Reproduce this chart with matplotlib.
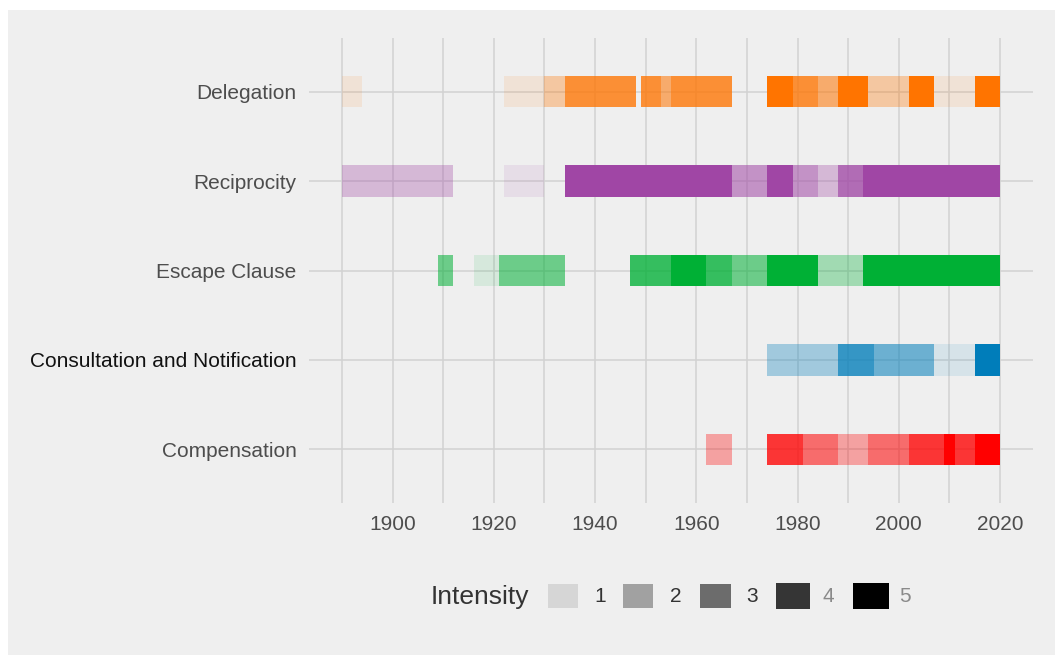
"""
Timeline of treaty provisions by year, shaded by intensity (1-5).
Each provision gets its own base colour; intensity maps to alpha.
"""

import matplotlib
matplotlib.use("Agg")
import matplotlib.pyplot as plt
import matplotlib.patches as patches

# ── data ──────────────────────────────────────────────────────────────────────
provisions = ["Compensation", "Consultation and Notification",
              "Escape Clause", "Reciprocity", "Delegation"]

# (start, end, intensity) per provision
compensation = [(1962, 1967, 2), (1974, 1981, 4), (1981, 1988, 3),
                (1988, 1994, 2), (1994, 2002, 3), (2002, 2009, 4),
                (2009, 2011, 5), (2011, 2015, 4), (2015, 2020, 5)]
consultation = [(1974, 1988, 2), (1988, 1995, 4), (1995, 2007, 3),
                (2007, 2015, 1), (2015, 2020, 5)]
escape_clause = [(1909, 1912, 3), (1916, 1921, 1), (1921, 1934, 3),
                 (1947, 1955, 4), (1955, 1962, 5), (1962, 1967, 4),
                 (1967, 1974, 3), (1974, 1984, 5), (1984, 1993, 2),
                 (1993, 2020, 5)]
reciprocity = [(1890, 1912, 2), (1922, 1930, 1), (1934, 1967, 5),
               (1967, 1974, 3), (1974, 1979, 5), (1979, 1984, 3),
               (1984, 1988, 2), (1988, 1993, 4), (1993, 2020, 5)]
delegation = [(1890, 1894, 1), (1922, 1930, 1), (1930, 1934, 2),
              (1934, 1948, 4), (1949, 1953, 4), (1953, 1955, 3),
              (1955, 1967, 4), (1974, 1979, 5), (1979, 1984, 4),
              (1984, 1988, 3), (1988, 1994, 5), (1994, 2002, 2),
              (2002, 2007, 5), (2007, 2015, 1), (2015, 2020, 5)]

segments = [compensation, consultation, escape_clause, reciprocity, delegation]
base_colours = ["#FF0000", "#007DBA", "#00B035", "#A046A5", "#FF7400"]

intensity_levels = [1, 2, 3, 4, 5]
intensity_alpha = [0.1, 0.325, 0.55, 0.775, 1.0]

x_major = [1900, 1920, 1940, 1960, 1980, 2000, 2020]
x_minor = [1890, 1910, 1930, 1950, 1970, 1990, 2010]

# ── style ─────────────────────────────────────────────────────────────────────
_BG = "#EFEFEF"
_GRID = "#D2D2D2"
_TEXT = "#4D4D4D"
_W, _H = 1055, 659

plt.rcParams["font.family"] = ["Liberation Sans", "DejaVu Sans"]


def px(x, y):
    """pixel (top-left origin) -> figure fraction"""
    return x / _W, 1 - y / _H


fig = plt.figure(figsize=(_W / 100, _H / 100), dpi=100)
fig.patch.set_facecolor("white")
# screenshot-style grey canvas with thin white margins
fig.add_artist(patches.Rectangle(px(8, 655), 1 - 8 / _W, (655 - 10) / _H,
                                 transform=fig.transFigure,
                                 facecolor=_BG, edgecolor="none", zorder=-5))

l, b = px(309, 503)
r, t = px(1033, 38)
ax = fig.add_axes([l, b, r - l, t - b])
ax.set_facecolor("none")

for row, (segs, colour) in enumerate(zip(segments, base_colours), start=1):
    for start, end, lvl in segs:
        ax.barh(row, end - start, left=start, height=0.35, color=colour,
                alpha=intensity_alpha[lvl - 1], linewidth=0, zorder=3)

ax.set_xlim(1883.5, 2026.5)
ax.set_ylim(0.4, 5.6)
ax.set_xticks(x_major)
ax.set_xticks(x_minor, minor=True)
ax.set_yticks(range(1, len(provisions) + 1))
ax.set_yticklabels(provisions)

ax.grid(True, which="both", color=_GRID, linewidth=1.1, zorder=0)
ax.set_axisbelow(True)
for spine in ax.spines.values():
    spine.set_visible(False)
ax.tick_params(which="both", length=0)
ax.tick_params(axis="x", labelsize=15, labelcolor=_TEXT, pad=9)
ax.tick_params(axis="y", labelsize=15, labelcolor=_TEXT, pad=9)
for lab in ax.get_yticklabels():
    if lab.get_text() == "Consultation and Notification":
        lab.set_color("#111111")

# ── legend, drawn by hand to sit in one row ──────────────────────────────────
fig.text(*px(431, 597), "Intensity", fontsize=19, color="#333333",
         ha="left", va="center")
key_x = [548, 623, 700, 776, 853]
key_w = [30, 30, 31, 34, 36]
key_h = [24, 24, 24, 26, 26]
lab_x = [600, 676, 752, 828, 905]
lab_col = ["#333333", "#333333", "#333333", "#8A8A8A", "#8A8A8A"]
for i, lvl in enumerate(intensity_levels):
    x0, y0 = px(key_x[i], 596 + key_h[i] / 2)
    fig.add_artist(patches.Rectangle(
        (x0, y0), key_w[i] / _W, key_h[i] / _H, transform=fig.transFigure,
        facecolor="black", alpha=intensity_alpha[i], edgecolor="none"))
    fig.text(*px(lab_x[i], 597), str(lvl), fontsize=15, color=lab_col[i],
             ha="center", va="center")

fig.savefig("out.png", dpi=100, facecolor=fig.get_facecolor())
plt.close(fig)
